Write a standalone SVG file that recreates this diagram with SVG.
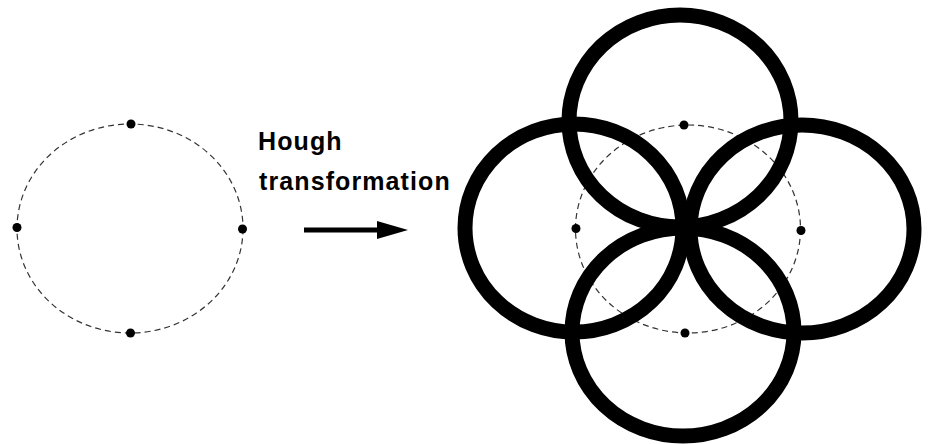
<svg xmlns="http://www.w3.org/2000/svg" width="932" height="444" viewBox="0 0 932 444">
<defs>
<style>
.dash{fill:none;stroke:#333;stroke-width:1.2;stroke-dasharray:6 4}
.dot{fill:#000}
.thick{fill:none;stroke:#000;stroke-width:15}
.lbl{font-family:"Liberation Sans",Arial,sans-serif;font-size:25px;font-weight:bold;fill:#000;letter-spacing:1.1px}
</style>
<marker id="ah" markerWidth="31" markerHeight="18" refX="1" refY="9" orient="auto" markerUnits="userSpaceOnUse">
<path d="M0,0 L31,9 L0,18 Z" fill="#000"/>
</marker>
</defs>
<rect width="932" height="444" fill="#fff"/>
<g id="input-circle">
<ellipse class="dash" cx="130" cy="228.5" rx="113" ry="104.5"/>
<circle class="dot" cx="131" cy="124" r="4.5"/>
<circle class="dot" cx="17" cy="227.5" r="4.5"/>
<circle class="dot" cx="242.5" cy="229" r="4.5"/>
<circle class="dot" cx="130.5" cy="333" r="4.5"/>
</g>
<g id="label">
<text class="lbl" x="258" y="150">Hough</text>
<text class="lbl" x="259" y="190">transformation</text>
</g>
<g id="connectors">
<line x1="304" y1="230" x2="378" y2="230" stroke="#000" stroke-width="5" marker-end="url(#ah)"/>
</g>
<g id="hough-space">
<ellipse class="dash" cx="688" cy="229" rx="112.5" ry="104"/>
<ellipse class="thick" cx="680" cy="121" rx="111" ry="106"/>
<ellipse class="thick" cx="574" cy="228" rx="109" ry="104"/>
<ellipse class="thick" cx="802" cy="229" rx="112" ry="104"/>
<ellipse class="thick" cx="683" cy="332" rx="111" ry="104"/>
<circle class="dot" cx="684" cy="125" r="4.5"/>
<circle class="dot" cx="576" cy="228.5" r="4.5"/>
<circle class="dot" cx="801" cy="230.5" r="4.5"/>
<circle class="dot" cx="685" cy="333" r="4.5"/>
</g>
</svg>
